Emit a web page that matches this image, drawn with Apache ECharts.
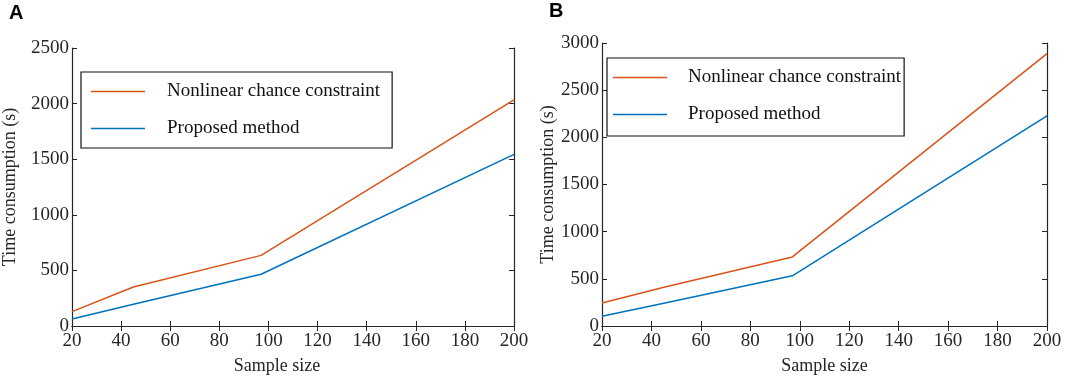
<!DOCTYPE html>
<html>
<head>
<meta charset="utf-8">
<script src="https://cdn.jsdelivr.net/npm/echarts@6/dist/echarts.min.js"></script>
<style>
  html, body { margin: 0; padding: 0; background: #fff; }
  #main { width: 1065px; height: 380px; }
</style>
</head>
<body>
<div id="main"></div>
<script>
// sample sizes (x) and time consumption (s)
var sizeA = [20, 45, 97, 200];
var nccA = [129, 351, 635, 2034];
var propA = [63, 196, 465, 1543];

var sizeB = [20, 45, 97, 200];
var nccB = [243, 410, 732, 2887];
var propB = [103, 242, 532, 2227];

var xTicks = [20, 40, 60, 80, 100, 120, 140, 160, 180, 200];

var RED = "#D95319";
var BLUE = "#0072BD";
var FONT = "Liberation Serif";
var INK = "#262626";

function pairs(xs, ys) {
  return xs.map(function (x, i) { return [x, ys[i]]; });
}

function plain(v) { return String(v); }

function xAx(grid, pos, showLabel, nameTxt, namePad) {
  return {
    type: "value", gridIndex: grid, position: pos,
    min: xTicks[0], max: xTicks[xTicks.length - 1], interval: 20,
    name: nameTxt, nameLocation: "middle", nameGap: 31,
    nameTextStyle: { fontFamily: FONT, fontSize: 18, color: INK, padding: namePad || 0 },
    axisLine: { show: true, lineStyle: { color: INK, width: 1.2 } },
    axisTick: { show: true, inside: true, length: 5, lineStyle: { color: INK } },
    axisLabel: { show: showLabel, margin: 6, fontFamily: FONT, fontSize: 19, color: INK, formatter: plain },
    splitLine: { show: false }
  };
}

function yAx(grid, pos, max, showLabel, nameTxt, gap) {
  return {
    type: "value", gridIndex: grid, position: pos,
    min: 0, max: max, interval: 500,
    name: nameTxt, nameLocation: "middle", nameGap: gap || 0, nameRotate: 90,
    nameTextStyle: { fontFamily: FONT, fontSize: 18, color: INK },
    axisLine: { show: true, lineStyle: { color: INK, width: 1.2 } },
    axisTick: { show: true, inside: true, length: 5, lineStyle: { color: INK } },
    axisLabel: { show: showLabel, margin: 3, fontFamily: FONT, fontSize: 19, color: INK, formatter: plain },
    splitLine: { show: false }
  };
}

function legendBox(left, top, pad, textGap) {
  return {
    orient: "vertical", left: left, top: top,
    data: [
      { name: "Nonlinear chance constraint", itemStyle: { color: RED } },
      { name: "Proposed method", itemStyle: { color: BLUE } }
    ],
    icon: "rect", itemWidth: 54, itemHeight: 1.5, itemGap: 18,
    borderColor: "#111", borderWidth: 1.2,
    padding: pad,
    textStyle: { fontFamily: FONT, fontSize: 19, color: "#111", padding: [0, 0, 0, textGap] },
    selectedMode: false
  };
}

function line(name, color, xi, yi, data) {
  return {
    name: name, type: "line", xAxisIndex: xi, yAxisIndex: yi,
    data: data, symbol: "none", smooth: false,
    lineStyle: { color: color, width: 1.5 }, itemStyle: { color: color },
    animation: false
  };
}

var chart = echarts.init(document.getElementById("main"));
chart.setOption({
  backgroundColor: "#fff",
  animation: false,
  title: [
    { text: "A", left: 4, top: -2, textStyle: { fontFamily: "Liberation Sans", fontWeight: "bold", fontSize: 20, color: "#000" } },
    { text: "B", left: 544, top: -4, textStyle: { fontFamily: "Liberation Sans", fontWeight: "bold", fontSize: 20, color: "#000" } }
  ],
  grid: [
    { left: 70, top: 48, width: 444, height: 290 },
    { left: 602, top: 43, width: 445, height: 291 }
  ],
  xAxis: [
    xAx(0, "bottom", true, "Sample size", [0, 32, 0, 0]),
    xAx(0, "top", false, ""),
    xAx(1, "bottom", true, "Sample size"),
    xAx(1, "top", false, "")
  ],
  yAxis: [
    yAx(0, "left", 2500, true, "Time consumption (s)", 53),
    yAx(0, "right", 2500, false, ""),
    yAx(1, "left", 3000, true, "Time consumption (s)", 45),
    yAx(1, "right", 3000, false, "")
  ],
  legend: [
    legendBox(81, 72, [10, 12, 10, 10], 17),
    legendBox(607, 58, [10, 3, 12, 6], 16)
  ],
  series: [
    line("Nonlinear chance constraint", RED, 0, 0, pairs(sizeA, nccA)),
    line("Proposed method", BLUE, 0, 0, pairs(sizeA, propA)),
    line("Nonlinear chance constraint", RED, 2, 2, pairs(sizeB, nccB)),
    line("Proposed method", BLUE, 2, 2, pairs(sizeB, propB))
  ]
});
</script>
</body>
</html>
